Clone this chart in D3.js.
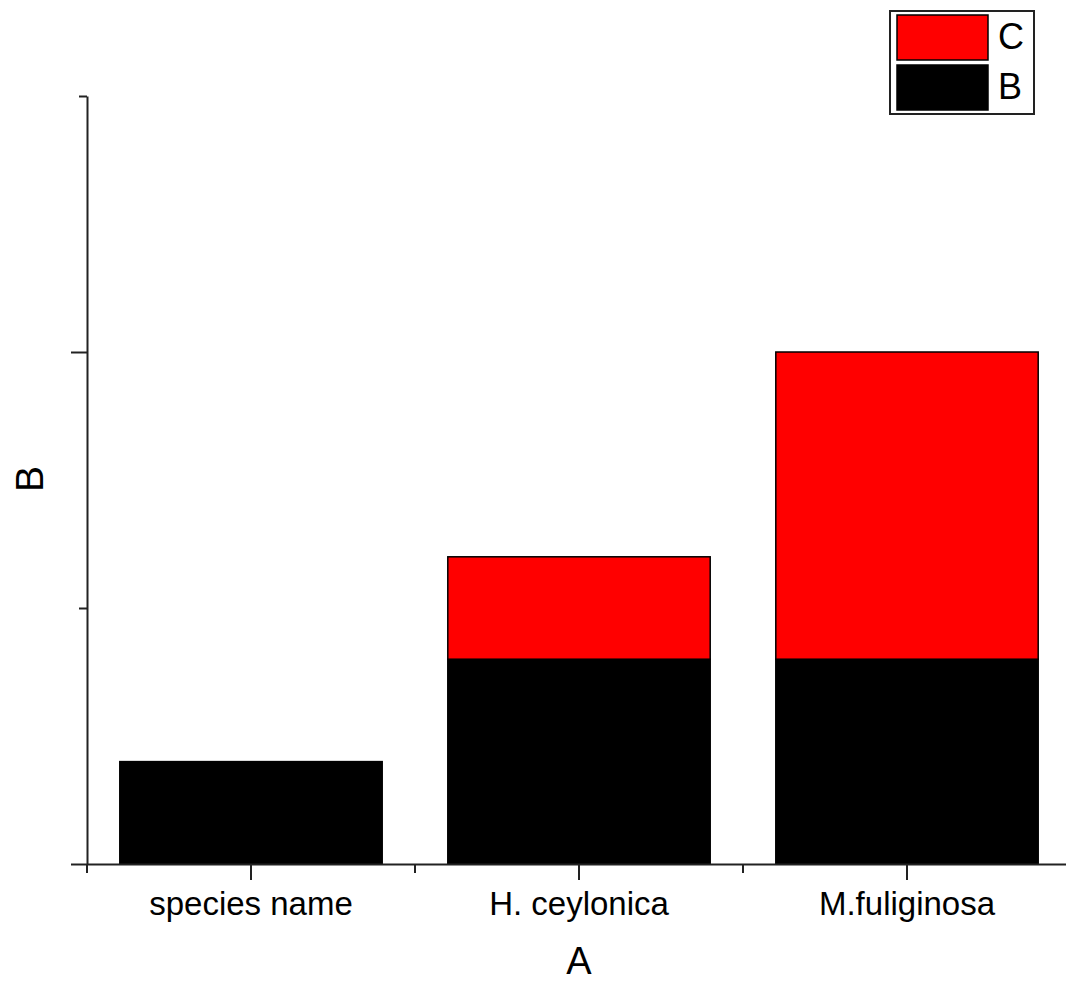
<!DOCTYPE html>
<html>
  <head>
    <meta charset="utf-8" />
    <title>Stacked bars B + C</title>
    <script src="https://d3js.org/d3.v7.min.js"></script>
    <style>
      body {
        margin: 0;
        background: #fff;
        font-family: "Liberation Sans", Arial, sans-serif;
      }
      svg {
        display: block;
        background: #fff;
      }
      .axis path, .axis line {
        stroke: #222;
        stroke-width: 2;
      }
    </style>
  </head>
  <body>
    <svg width="1066" height="983"></svg>

    <script>
      // data
      const categories = ["species name", "H. ceylonica", "M.fuliginosa"];
      const valuesB = [1, 2, 2];
      const valuesC = [0, 1, 3];
      const majorTicksY = [0, 5];
      const minorTicksY = [2.5, 7.5];

      const svg = d3.select("svg");

      const x = d3.scaleBand()
        .domain(categories)
        .range([87, 1071])
        .paddingInner(0.2)
        .paddingOuter(0.1);

      const y = d3.scaleLinear().domain([0, 7.5]).range([864, 96]);

      const rows = categories.map((c, i) => ({ cat: c, B: valuesB[i], C: valuesC[i] }));
      const stack = d3.stack().keys(["B", "C"])(rows);
      const colors = { B: "#000000", C: "#ff0000" };

      // bars
      svg.append("g")
        .selectAll("g")
        .data(stack)
        .join("g")
        .attr("fill", d => colors[d.key])
        .selectAll("rect")
        .data(d => d.filter(s => s[1] > s[0]))
        .join("rect")
        .attr("x", d => x(d.data.cat))
        .attr("y", d => y(d[1]))
        .attr("width", x.bandwidth())
        .attr("height", d => y(d[0]) - y(d[1]))
        .attr("stroke", "#000")
        .attr("stroke-width", 1.5);

      // y axis
      svg.append("g")
        .attr("class", "axis")
        .attr("transform", "translate(87,0)")
        .call(d3.axisLeft(y).tickValues(majorTicksY).tickSize(16).tickSizeOuter(0).tickFormat(""));
      svg.append("g")
        .attr("class", "axis")
        .attr("transform", "translate(87,0)")
        .call(d3.axisLeft(y).tickValues(minorTicksY).tickSize(8).tickSizeOuter(0).tickFormat(""))
        .call(g => g.select(".domain").remove());

      // x axis
      const xAxis = svg.append("g")
        .attr("class", "axis")
        .attr("transform", "translate(0,864)")
        .call(d3.axisBottom(x).tickSize(16).tickSizeOuter(0).tickPadding(12));
      xAxis.selectAll("text")
        .attr("font-family", "'Liberation Sans', Arial, sans-serif")
        .attr("font-size", 33)
        .attr("fill", "#000");

      // minor x ticks at band boundaries
      const bounds = d3.range(categories.length).map(i => x.range()[0] + i * x.step());
      xAxis.selectAll(".minor")
        .data(bounds)
        .join("line")
        .attr("class", "minor")
        .attr("x1", d => d).attr("x2", d => d)
        .attr("y1", 0).attr("y2", 9);

      // axis titles
      svg.append("text")
        .attr("x", 579)
        .attr("y", 974)
        .attr("text-anchor", "middle")
        .attr("font-size", 38)
        .text("A");

      svg.append("text")
        .attr("transform", "translate(43,479) rotate(-90)")
        .attr("text-anchor", "middle")
        .attr("font-size", 39)
        .text("B");

      // legend
      const legend = svg.append("g");
      legend.append("rect")
        .attr("x", 890).attr("y", 11)
        .attr("width", 144).attr("height", 103)
        .attr("fill", "#fff")
        .attr("stroke", "#222")
        .attr("stroke-width", 2);

      const legendItems = [
        { key: "C", top: 15 },
        { key: "B", top: 65 }
      ];
      legend.selectAll(".sw")
        .data(legendItems)
        .join("rect")
        .attr("class", "sw")
        .attr("x", 897).attr("y", d => d.top)
        .attr("width", 91).attr("height", 45)
        .attr("fill", d => colors[d.key])
        .attr("stroke", "#000")
        .attr("stroke-width", 1.5);
      legend.selectAll(".lt")
        .data(legendItems)
        .join("text")
        .attr("class", "lt")
        .attr("x", 998)
        .attr("y", d => d.top + 34)
        .attr("font-size", 36)
        .text(d => d.key);
    </script>
  </body>
</html>
